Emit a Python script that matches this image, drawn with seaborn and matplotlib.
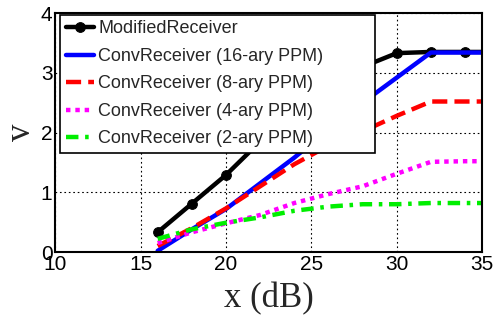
import matplotlib
matplotlib.use("Agg")
import matplotlib.pyplot as plt
import seaborn as sns

# x positions (dB); the last point sits just past the axis limit so lines run to the edge
x_db = [16, 18, 20, 22, 24, 26, 28, 30, 32, 34, 36]

modified = [0.33, 0.81, 1.29, 1.85, 2.35, 2.8, 3.1, 3.33, 3.35, 3.35, 3.35]
conv_16 = [0.02, 0.38, 0.72, 1.15, 1.58, 2.05, 2.5, 2.92, 3.34, 3.34, 3.34]
conv_8 = [0.1, 0.4, 0.73, 1.1, 1.47, 1.78, 2.02, 2.28, 2.52, 2.52, 2.52]
conv_4 = [0.15, 0.33, 0.48, 0.62, 0.82, 0.97, 1.1, 1.31, 1.51, 1.52, 1.52]
conv_2 = [0.22, 0.38, 0.49, 0.58, 0.69, 0.76, 0.8, 0.8, 0.82, 0.82, 0.82]

labels = ["ModifiedReceiver", "ConvReceiver (16-ary PPM)", "ConvReceiver (8-ary PPM)",
          "ConvReceiver (4-ary PPM)", "ConvReceiver (2-ary PPM)"]

sns.set_style("white")
plt.rcParams['font.family'] = ['Liberation Sans', 'DejaVu Sans']

fig = plt.figure(figsize=(4.93, 3.2), dpi=100)
ax = fig.add_axes([0.112, 0.2125, 0.866, 0.7465])

lw = 3.2
sns.lineplot(x=x_db, y=modified, ax=ax, color="black", lw=lw, marker="o",
             markersize=7, markeredgecolor="black", label=labels[0])
sns.lineplot(x=x_db, y=conv_16, ax=ax, color="#0000ff", lw=lw, label=labels[1])
sns.lineplot(x=x_db, y=conv_8, ax=ax, color="#ff0000", lw=lw, label=labels[2])
sns.lineplot(x=x_db, y=conv_4, ax=ax, color="#ff00ff", lw=lw, label=labels[3])
sns.lineplot(x=x_db, y=conv_2, ax=ax, color="#00ee00", lw=lw, label=labels[4])

lines = ax.get_lines()
lines[2].set_dashes((3.4, 1.6))
lines[3].set_dashes((1.0, 1.1))
lines[4].set_dashes((2.8, 1.5, 0.8, 1.5))

ax.set_xlim(10, 35)
ax.set_ylim(0, 4)
ax.set_xticks([10, 15, 20, 25, 30, 35])
ax.set_yticks([0, 1, 2, 3, 4])
ax.tick_params(direction="in", length=4, width=1, labelsize=15, colors="black", pad=2)
ax.grid(True, color="black", linestyle=(0, (1.5, 2.5)), linewidth=0.8)
for s in ax.spines.values():
    s.set_color("black")
    s.set_linewidth(1.5)

ax.set_xlabel("x (dB)", family="Liberation Serif", fontsize=25, labelpad=6)
ax.set_ylabel("v", family="Liberation Serif", fontsize=25, labelpad=2)

# legend box stretched to the width seen in the reference
leg = ax.legend(loc="upper left", bbox_to_anchor=(0.012, 0.4, 0.737, 0.592),
                mode="expand", fontsize=13,
                frameon=True, fancybox=False, edgecolor="black", framealpha=1,
                handlelength=1.55, handletextpad=0.25, labelspacing=0.58,
                borderpad=0.3, borderaxespad=0.0)
leg.get_frame().set_linewidth(1.2)

fig.savefig("out.png", dpi=100)
